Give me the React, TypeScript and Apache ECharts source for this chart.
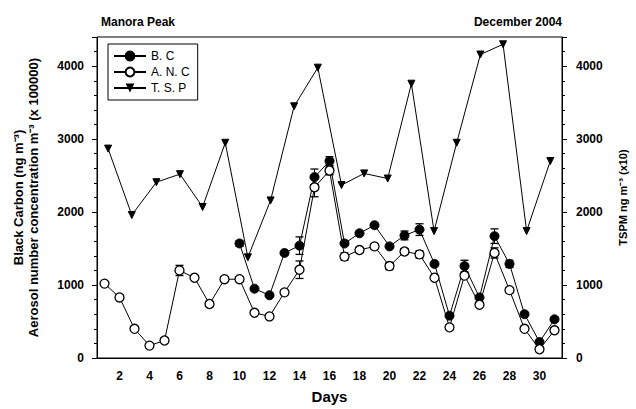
import React, { useEffect, useRef } from "react";
import * as echarts from "echarts";

const days: string[] = Array.from({ length: 31 }, (_, i) => String(i + 1));

const bcValues: (number | null)[] = [
  null, null, null, null, null, null, null, null, null,
  1570, 950, 860, 1440, 1540, 2480, 2700, 1570, 1710, 1820, 1530, 1680,
  1760, 1290, 580, 1260, 830, 1670, 1290, 600, 220, 530,
];

const ancValues: number[] = [
  1020, 830, 400, 170, 240, 1200, 1100, 740, 1080, 1080, 620, 570, 900,
  1210, 2340, 2570, 1390, 1480, 1530, 1260, 1460, 1420, 1100, 420, 1130,
  730, 1440, 930, 400, 120, 380,
];

// TSP samples (x in days)
const tspDays: number[] = [
  1.24, 2.82, 4.46, 6.03, 7.54, 9.05, 10.56, 12.07, 13.64, 15.22, 16.8,
  18.31, 19.88, 21.46, 22.97, 24.48, 26.06, 27.57, 29.14, 30.72,
];
const tspValues: number[] = [
  2870, 1960, 2410, 2520, 2070, 2950, 1380, 2160, 3450, 3980, 2370, 2530,
  2460, 3760, 1740, 2950, 4160, 4300, 1740, 2700,
];

// error bar half-widths (day, error)
const bcErrDays: number[] = [10, 14, 15, 16, 21, 22, 25, 27, 28, 31];
const bcErrs: number[] = [40, 120, 110, 60, 60, 80, 80, 100, 50, 30];
const ancErrDays: number[] = [6, 14, 15, 16, 17, 20, 21, 22, 27];
const ancErrs: number[] = [70, 120, 130, 60, 50, 50, 40, 50, 70];

const yTicks = { min: 0, max: 4400, interval: 1000, lastLabel: 4000 };

const FONT = "'Liberation Sans', Arial, sans-serif";

export default function App() {
  const ref = useRef<HTMLDivElement>(null);

  useEffect(() => {
    if (!ref.current) return;
    const chart = echarts.init(ref.current, undefined, { renderer: "svg" });

    const errData = (ds: number[], es: number[], vals: (number | null)[]) =>
      ds.map((d, i) => {
        const v = vals[d - 1] as number;
        return [d - 1, v - es[i], v + es[i]];
      });

    const renderErr = (params: any, api: any) => {
      const x = api.value(0);
      const lo = api.coord([x, api.value(1)]);
      const hi = api.coord([x, api.value(2)]);
      const w = 4;
      const st = { stroke: "#000", lineWidth: 1 };
      return {
        type: "group",
        children: [
          { type: "line", shape: { x1: lo[0], y1: lo[1], x2: hi[0], y2: hi[1] }, style: st },
          { type: "line", shape: { x1: hi[0] - w, y1: hi[1], x2: hi[0] + w, y2: hi[1] }, style: { stroke: "#000", lineWidth: 1.3 } },
          { type: "line", shape: { x1: lo[0] - w, y1: lo[1], x2: lo[0] + w, y2: lo[1] }, style: { stroke: "#000", lineWidth: 1.3 } },
        ],
      };
    };

    const axisLabelStyle = { color: "#000", fontWeight: "bold", fontSize: 12, fontFamily: FONT };
    const yFmt = (v: number) => (v <= yTicks.lastLabel ? String(v) : "");

    chart.setOption({
      animation: false,
      backgroundColor: "#fff",
      textStyle: { fontFamily: FONT },
      grid: {
        left: 97,
        right: 67,
        top: 37,
        bottom: 46,
        show: true,
        borderColor: "#000",
        borderWidth: 1,
        containLabel: false,
      },
      graphic: [
        {
          type: "text",
          left: 101,
          top: 16,
          style: { text: "Manora Peak", font: `bold 12px ${FONT}`, fill: "#000" },
        },
        {
          type: "text",
          right: 74,
          top: 16,
          style: { text: "December 2004", font: `bold 12px ${FONT}`, fill: "#000" },
        },
      ],
      legend: {
        left: 108,
        top: 44,
        orient: "vertical",
        backgroundColor: "#fff",
        borderColor: "#000",
        borderWidth: 1,
        borderRadius: 0,
        padding: [6, 8, 6, 5],
        itemGap: 4,
        itemWidth: 32,
        itemHeight: 11,
        textStyle: { color: "#000", fontSize: 12, fontFamily: FONT },
        data: ["B. C", "A. N. C", "T. S. P"],
      },
      xAxis: [
        {
          type: "category",
          data: days,
          boundaryGap: true,
          name: "Days",
          nameLocation: "middle",
          nameGap: 31,
          nameTextStyle: { color: "#000", fontWeight: "bold", fontSize: 15, fontFamily: FONT },
          axisLine: { lineStyle: { color: "#000", width: 1 } },
          axisTick: { alignWithLabel: true, interval: 0, length: 4, inside: false, lineStyle: { color: "#000" } },
          axisLabel: {
            ...axisLabelStyle,
            margin: 12,
            interval: (index: number) => index % 2 === 1,
          },
          splitLine: { show: false },
        },
        {
          type: "value",
          min: 0.5,
          max: 31.5,
          show: false,
          position: "bottom",
        },
      ],
      yAxis: [
        {
          type: "value",
          min: yTicks.min,
          max: yTicks.max,
          interval: yTicks.interval,
          position: "left",
          name: "Black Carbon (ng m⁻³)\nAerosol number concentration m⁻³ (x 100000)",
          nameLocation: "middle",
          nameGap: 56,
          nameRotate: 90,
          nameTextStyle: { color: "#000", fontWeight: "bold", fontSize: 13, lineHeight: 15, fontFamily: FONT },
          axisLine: { show: true, lineStyle: { color: "#000" } },
          axisTick: { show: true, length: 5, lineStyle: { color: "#000" } },
          minorTick: { show: true, splitNumber: 5, length: 3, lineStyle: { color: "#000" } },
          axisLabel: { ...axisLabelStyle, margin: 13, formatter: yFmt, showMaxLabel: false },
          splitLine: { show: false },
        },
        {
          type: "value",
          min: yTicks.min,
          max: yTicks.max,
          interval: yTicks.interval,
          position: "right",
          name: "TSPM ng m⁻³ (x10)",
          nameLocation: "middle",
          nameGap: 55,
          nameRotate: 90,
          nameTextStyle: { color: "#000", fontWeight: "bold", fontSize: 11, fontFamily: FONT },
          axisLine: { show: true, lineStyle: { color: "#000" } },
          axisTick: { show: true, length: 5, lineStyle: { color: "#000" } },
          minorTick: { show: true, splitNumber: 5, length: 3, lineStyle: { color: "#000" } },
          axisLabel: { ...axisLabelStyle, margin: 14, formatter: yFmt, showMaxLabel: false },
          splitLine: { show: false },
        },
      ],
      series: [
        {
          type: "custom",
          name: "bcErr",
          xAxisIndex: 0,
          yAxisIndex: 0,
          renderItem: renderErr,
          data: errData(bcErrDays, bcErrs, bcValues),
          z: 1,
          silent: true,
        },
        {
          type: "custom",
          name: "ancErr",
          xAxisIndex: 0,
          yAxisIndex: 0,
          renderItem: renderErr,
          data: errData(ancErrDays, ancErrs, ancValues),
          z: 1,
          silent: true,
        },
        {
          type: "line",
          name: "T. S. P",
          xAxisIndex: 1,
          yAxisIndex: 1,
          data: tspDays.map((d, i) => [d, tspValues[i]]),
          symbol: "triangle",
          symbolRotate: 180,
          symbolSize: 7,
          lineStyle: { color: "#000", width: 1 },
          itemStyle: { color: "#000", borderColor: "#000" },
          z: 2,
        },
        {
          type: "line",
          name: "B. C",
          xAxisIndex: 0,
          yAxisIndex: 0,
          data: bcValues,
          symbol: "circle",
          symbolSize: 9,
          lineStyle: { color: "#000", width: 1 },
          itemStyle: { color: "#000", borderColor: "#000", borderWidth: 1 },
          z: 3,
        },
        {
          type: "line",
          name: "A. N. C",
          xAxisIndex: 0,
          yAxisIndex: 0,
          data: ancValues,
          symbol: "circle",
          symbolSize: 9,
          showAllSymbol: true,
          lineStyle: { color: "#000", width: 1 },
          itemStyle: { color: "#fff", borderColor: "#000", borderWidth: 1.3 },
          z: 4,
        },
      ],
    });

    return () => chart.dispose();
  }, []);

  return (
    <div
      ref={ref}
      style={{
        position: "fixed",
        left: 0,
        top: 0,
        width: 636,
        height: 409,
        overflow: "hidden",
        background: "#fff",
      }}
    />
  );
}
